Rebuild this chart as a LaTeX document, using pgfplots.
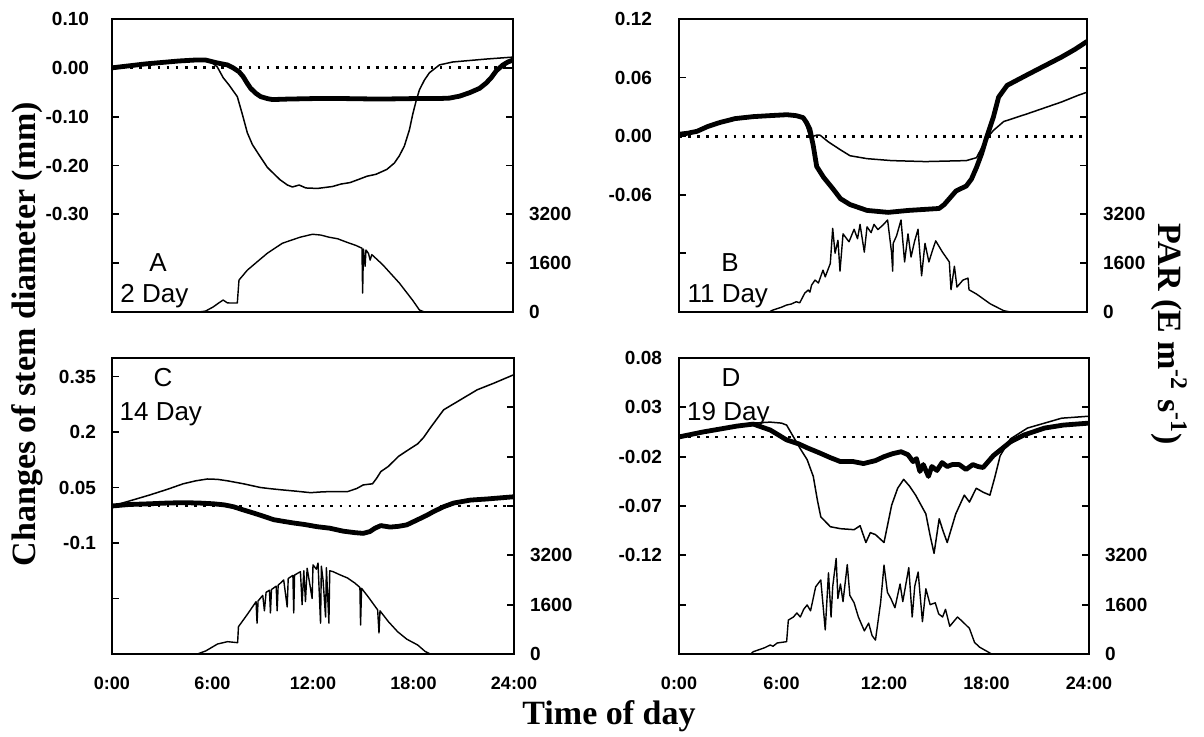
\documentclass[border=0pt]{standalone}
\usepackage{fontspec}
\setmainfont{Liberation Sans}
\newfontfamily\tnr{Liberation Serif}
\usepackage{pgfplots}
\pgfplotsset{compat=1.18}
\pgfplotsset{
 dia/.style={scale only axis, anchor=south west, xmin=0, xmax=24,
   axis line style={line width=1.25pt}, tick align=inside, major tick length=3.5pt,
   tick style={line width=0.9pt, black}, ytick pos=left, xtick pos=bottom,
   yticklabel style={font=\bfseries\fontsize{9.5}{11}\selectfont, anchor=east},
   xticklabel style={font=\bfseries\fontsize{9}{11}\selectfont, anchor=base, yshift=-17.75pt},
   xtick style={draw=none}},
 par/.style={scale only axis, anchor=south west, xmin=0, xmax=24, ymin=0, ymax=9600,
   hide x axis, y axis line style={draw=none}, ytick pos=right, yticklabel pos=right,
   tick align=inside, major tick length=3.5pt, tick style={line width=0.9pt, black},
   ytick={0,1600,3200,4800,6400,8000}, yticklabels={0,1600,3200,,,},
   yticklabel style={font=\bfseries\fontsize{9.5}{11}\selectfont, anchor=west, xshift=4.5pt}},
 thk/.style={black, line width=2.4pt, line join=round},
 thn/.style={black, line width=0.75pt, line join=round},
 zero/.style={black, line width=1.35pt, dash pattern=on 1.35pt off 3.2pt},
 parl/.style={black, line width=0.7pt, line join=round},
}
\tikzset{
 lett/.style={font=\fontsize{13}{15}\selectfont, anchor=base},
 dayl/.style={font=\fontsize{13}{15}\selectfont, anchor=base west, inner sep=0pt},
}
\begin{document}
\begin{tikzpicture}
\path[use as bounding box] (0,0) rectangle (602pt,368.5pt);
% ---------------- Panel A ----------------
\begin{axis}[dia, at={(56pt,212.5pt)}, width=200.5pt, height=146.5pt,
  ymin=-0.5, ymax=0.1, ytick={-0.4,-0.3,-0.2,-0.1,0,0.1},
  yticklabels={,-0.30,-0.20,-0.10,0.00,0.10}, yticklabel style={xshift=-8pt}, xtick=\empty]
\addplot[zero] coordinates {(0,0) (24,0)};
\addplot[thn] coordinates {(0,0.000) (1,0.004) (2,0.008) (3,0.011) (4,0.014) (5,0.016) (5.6,0.015) (6.0,0.010) (6.3,0.002) (6.65,-0.020) (7.0,-0.035) (7.5,-0.059) (7.8,-0.095) (8.1,-0.133) (8.4,-0.157) (8.7,-0.173) (9.3,-0.204) (10.05,-0.229) (10.5,-0.240) (10.8,-0.244) (11.2,-0.240) (11.6,-0.246) (12.3,-0.247) (13.2,-0.243) (13.7,-0.238) (14.25,-0.235) (14.8,-0.228) (15.26,-0.222) (15.8,-0.218) (16.45,-0.208) (16.9,-0.195) (17.2,-0.180) (17.5,-0.160) (17.8,-0.127) (18.0,-0.095) (18.2,-0.068) (18.4,-0.045) (18.7,-0.025) (19.0,-0.010) (19.6,0.006) (20.4,0.012) (21.4,0.015) (22.4,0.018) (24,0.022)};
\addplot[thk] coordinates {(0,0.000) (1,0.004) (2,0.008) (3,0.011) (4,0.014) (5,0.016) (5.6,0.016) (6.3,0.010) (6.9,0.006) (7.25,0.000) (7.6,-0.008) (7.85,-0.018) (8.1,-0.032) (8.3,-0.042) (8.6,-0.052) (8.9,-0.059) (9.3,-0.063) (9.6,-0.065) (10.5,-0.064) (12,-0.063) (14,-0.063) (16,-0.064) (18,-0.063) (19.5,-0.063) (20.2,-0.062) (20.8,-0.058) (21.4,-0.051) (22,-0.042) (22.4,-0.031) (22.7,-0.020) (23.0,-0.006) (23.4,0.006) (23.7,0.012) (24,0.016)};
\node[lett] at (rel axis cs:0.115,0.137) {A};
\node[dayl] at (rel axis cs:0.02,0.031) {2 Day};
\end{axis}
\begin{axis}[par, at={(56pt,212.5pt)}, width=200.5pt, height=146.5pt]
\addplot[parl] coordinates {(0,0) (5.2,0) (5.6,30) (6.05,163) (6.4,300) (6.65,392) (6.9,300) (7.07,294) (7.5,294) (7.6,1045) (8.1,1371) (8.7,1650) (9.3,1926) (10.2,2253) (11.25,2449) (12.0,2547) (12.5,2520) (13.0,2449) (13.5,2400) (14.05,2286) (14.6,2180) (14.96,2090) (15.0,620) (15.05,2060) (15.15,1500) (15.2,2030) (15.35,1920) (15.45,1700) (15.55,1880) (16.2,1550) (17.2,947) (18.0,380) (18.4,65) (18.7,0) (24,0)};
\end{axis}
% ---------------- Panel B ----------------
\begin{axis}[dia, at={(339.5pt,212.5pt)}, width=204pt, height=146.5pt,
  ymin=-0.18, ymax=0.12, ytick={-0.12,-0.06,0,0.06,0.12},
  yticklabels={,-0.06,0.00,0.06,0.12}, yticklabel style={xshift=-10pt}, xtick=\empty]
\addplot[zero] coordinates {(0,0) (24,0)};
\addplot[thn] coordinates {(0,0.002) (0.5,0.003) (1.06,0.005) (1.7,0.010) (2.4,0.014) (3.3,0.018) (4.35,0.020) (5.3,0.021) (6.35,0.022) (6.9,0.021) (7.3,0.018) (7.5,0.010) (7.7,-0.001) (8.1,0.001) (8.3,0.001) (8.8,-0.006) (9.5,-0.014) (10.06,-0.020) (11.06,-0.023) (12.5,-0.025) (14.5,-0.026) (16.9,-0.025) (17.5,-0.022) (17.8,-0.012) (18.06,-0.003) (18.5,0.006) (19.1,0.015) (20.5,0.023) (22.5,0.035) (23.5,0.042) (24,0.045)};
\addplot[thk] coordinates {(0,0.002) (0.5,0.003) (1.06,0.005) (1.7,0.010) (2.4,0.014) (3.3,0.018) (4.35,0.020) (5.3,0.021) (6.35,0.022) (6.9,0.021) (7.3,0.019) (7.5,0.014) (7.7,0.007) (7.9,-0.010) (8.1,-0.031) (8.5,-0.042) (9.06,-0.054) (9.5,-0.064) (10.06,-0.070) (11.06,-0.076) (12.3,-0.078) (13.5,-0.076) (15.3,-0.074) (15.6,-0.070) (16.0,-0.062) (16.3,-0.056) (16.9,-0.051) (17.2,-0.044) (17.5,-0.032) (17.8,-0.018) (18.06,-0.003) (18.5,0.020) (18.8,0.040) (19.3,0.052) (20.5,0.063) (21.5,0.072) (22.5,0.081) (23.3,0.089) (24,0.097)};
\node[lett] at (rel axis cs:0.125,0.137) {B};
\node[dayl] at (rel axis cs:0.02,0.031) {11 Day};
\end{axis}
\begin{axis}[par, at={(339.5pt,212.5pt)}, width=204pt, height=146.5pt]
\addplot[parl] coordinates {(0,0) (5.3,0) (5.53,65) (6.0,150) (6.33,228) (6.6,260) (6.9,336) (7.1,300) (7.4,620) (7.6,718) (7.7,650) (7.8,882) (8.0,1045) (8.2,950) (8.47,1371) (8.6,1150) (8.9,1590) (9.04,2740) (9.18,1926) (9.35,2350) (9.47,1340) (9.65,2560) (10.0,2300) (10.3,2710) (10.5,2400) (10.65,2870) (10.9,1960) (11.06,2790) (11.3,2600) (11.47,2870) (11.7,2700) (12.0,2850) (12.27,3015) (12.5,1960) (12.57,1340) (12.6,2250) (12.8,2500) (13.06,3015) (13.27,1640) (13.47,2560) (13.65,1800) (13.85,2300) (14.06,2710) (14.27,1185) (14.47,2250) (14.7,1640) (14.9,2000) (15.1,2330) (15.5,1960) (15.9,1640) (16.0,728) (16.2,1500) (16.35,816) (16.7,1045) (17.0,1110) (17.06,728) (17.5,588) (18.3,270) (19.1,42) (19.5,0) (24,0)};
\end{axis}
% ---------------- Panel C ----------------
\begin{axis}[dia, at={(56pt,41.5pt)}, width=201pt, height=148pt,
  ymin=-0.4, ymax=0.4, ytick={-0.25,-0.1,0.05,0.2,0.35},
  yticklabels={,-0.1,0.05,0.2,0.35}, yticklabel style={xshift=-4.5pt},
  xtick={0,6,12,18,24}, xticklabels={0:00,6:00,12:00,18:00,24:00}]
\addplot[zero] coordinates {(0,0) (24,0)};
\addplot[thn] coordinates {(0,0.000) (1,0.013) (2.27,0.030) (3.3,0.045) (4.25,0.060) (5.0,0.068) (5.7,0.073) (6.3,0.072) (6.9,0.068) (7.85,0.060) (8.86,0.050) (9.4,0.047) (10.05,0.044) (11.0,0.040) (11.85,0.036) (12.5,0.038) (13.05,0.039) (14.07,0.039) (14.6,0.047) (15.0,0.057) (15.55,0.060) (15.8,0.075) (16.05,0.093) (16.5,0.107) (17.1,0.134) (17.7,0.152) (18.25,0.168) (18.6,0.185) (19.0,0.211) (19.8,0.260) (20.8,0.287) (21.8,0.314) (22.8,0.332) (24,0.355)};
\addplot[thk] coordinates {(0,0.000) (1,0.004) (2.27,0.006) (3.3,0.008) (4.25,0.009) (5.2,0.008) (6.05,0.006) (6.7,0.003) (7.25,-0.002) (7.8,-0.010) (8.45,-0.019) (9.0,-0.027) (9.65,-0.037) (10.3,-0.042) (10.85,-0.046) (11.5,-0.050) (12.25,-0.056) (13.0,-0.060) (13.8,-0.068) (14.5,-0.072) (15.0,-0.074) (15.4,-0.069) (15.7,-0.060) (16.05,-0.053) (16.6,-0.057) (17.1,-0.055) (17.6,-0.051) (18.25,-0.037) (18.8,-0.025) (19.2,-0.015) (19.8,-0.002) (20.4,0.008) (21.4,0.016) (22.4,0.019) (23.2,0.022) (24,0.025)};
\node[lett] at (rel axis cs:0.127,0.903) {C};
\node[dayl] at (rel axis cs:0.018,0.79) {14 Day};
\end{axis}
\begin{axis}[par, at={(56pt,41.5pt)}, width=201pt, height=148pt]
\addplot[parl] coordinates {(0,0) (5.1,0) (5.6,100) (6.3,324) (6.9,400) (7.5,367) (7.55,886) (8.1,1300) (8.6,1697) (8.66,1000) (8.72,1720) (9.0,1900) (9.1,1400) (9.2,2000) (9.4,2070) (9.46,1330) (9.52,2090) (9.8,2200) (9.86,1400) (9.92,2230) (10.25,2400) (10.46,1525) (10.52,2450) (10.8,2550) (10.85,1330) (10.9,2560) (11.25,2670) (11.35,1600) (11.45,2700) (11.55,1700) (11.65,2780) (11.95,1800) (12.0,2890) (12.2,2750) (12.3,2950) (12.45,1000) (12.5,2850) (12.6,2400) (12.75,1200) (12.8,2800) (12.95,1000) (13.0,2700) (13.2,2670) (13.6,2570) (14.06,2465) (14.5,2300) (14.8,2160) (14.84,940) (14.9,2130) (15.3,1850) (15.86,1430) (15.94,680) (16.0,1400) (16.5,1050) (17.05,724) (17.6,480) (18.25,292) (18.7,80) (19,0) (24,0)};
\end{axis}
% ---------------- Panel D ----------------
\begin{axis}[dia, at={(339.5pt,41.5pt)}, width=205pt, height=148pt,
  ymin=-0.22, ymax=0.08, ytick={-0.17,-0.12,-0.07,-0.02,0.03,0.08},
  yticklabels={,-0.12,-0.07,-0.02,0.03,0.08}, yticklabel style={xshift=-5pt},
  xtick={0,6,12,18,24}, xticklabels={0:00,6:00,12:00,18:00,24:00}]
\addplot[zero] coordinates {(0,0) (24,0)};
\addplot[thn] coordinates {(0,0.000) (1.4,0.005) (2.4,0.008) (3.4,0.012) (4.35,0.014) (5.34,0.015) (6.0,0.014) (6.3,0.012) (6.7,0.000) (7.1,-0.012) (7.5,-0.023) (7.86,-0.040) (8.1,-0.064) (8.3,-0.081) (8.86,-0.091) (9.45,-0.093) (10.25,-0.094) (10.6,-0.090) (10.94,-0.107) (11.2,-0.097) (11.5,-0.099) (12.0,-0.107) (12.45,-0.069) (12.8,-0.052) (13.15,-0.043) (13.5,-0.050) (13.85,-0.059) (14.45,-0.078) (14.7,-0.100) (14.93,-0.118) (15.23,-0.083) (15.45,-0.095) (15.7,-0.107) (16.2,-0.078) (16.7,-0.059) (17.0,-0.066) (17.4,-0.052) (17.8,-0.056) (18.2,-0.059) (18.5,-0.040) (18.8,-0.019) (19.4,-0.002) (20.4,0.009) (22.4,0.019) (24,0.021)};
\addplot[thk] coordinates {(0,0.000) (1.4,0.005) (2.4,0.008) (3.4,0.011) (4.35,0.013) (5.34,0.007) (6.3,-0.003) (7.0,-0.007) (7.5,-0.011) (8.2,-0.016) (8.86,-0.021) (9.45,-0.025) (10.2,-0.025) (10.8,-0.027) (11.5,-0.024) (12.0,-0.020) (12.5,-0.017) (13.0,-0.015) (13.4,-0.018) (13.7,-0.025) (13.9,-0.022) (14.1,-0.035) (14.3,-0.028) (14.6,-0.040) (14.8,-0.030) (15.1,-0.034) (15.4,-0.026) (15.7,-0.030) (16.0,-0.028) (16.4,-0.028) (16.8,-0.033) (17.2,-0.028) (17.5,-0.030) (17.8,-0.031) (18.4,-0.019) (19.4,-0.005) (20.2,0.002) (21.4,0.009) (22.5,0.012) (24,0.014)};
\node[lett] at (rel axis cs:0.127,0.903) {D};
\node[dayl] at (rel axis cs:0.019,0.79) {19 Day};
\end{axis}
\begin{axis}[par, at={(339.5pt,41.5pt)}, width=205pt, height=148pt]
\addplot[parl] coordinates {(0,0) (4.2,0) (4.35,75) (5.0,200) (5.34,292) (5.5,250) (5.75,357) (6.3,400) (6.4,1100) (6.7,1200) (6.9,1330) (7.1,1200) (7.3,1450) (7.5,1590) (7.7,1400) (8.0,2180) (8.3,2400) (8.56,780) (8.75,2630) (8.9,1200) (9.0,2200) (9.2,3100) (9.3,1800) (9.45,2270) (9.6,1700) (9.85,2900) (10.0,1900) (10.25,1660) (10.5,1200) (10.85,750) (11.1,1000) (11.3,600) (11.5,450) (11.8,1660) (12.0,2880) (12.2,2000) (12.4,1800) (12.64,1500) (12.94,2270) (13.1,1700) (13.45,2800) (13.65,1200) (13.8,2200) (14.0,2660) (14.1,2000) (14.25,1050) (14.45,2115) (14.7,1600) (15.0,1660) (15.2,1300) (15.43,1200) (15.6,1450) (15.85,900) (16.3,1200) (16.6,1050) (17.0,830) (17.3,375) (17.6,220) (18.3,0) (24,0)};
\end{axis}
% ---------------- Axis titles ----------------
\node[rotate=90, font=\tnr\bfseries\fontsize{17}{20}\selectfont] at (13.5pt,201.5pt) {Changes of stem diameter (mm)};
\node[rotate=-90, font=\tnr\bfseries\fontsize{17}{20}\selectfont] at (584.5pt,201.5pt) {PAR (E m\textsuperscript{-2} s\textsuperscript{-1})};
\node[anchor=base, font=\tnr\bfseries\fontsize{17}{20}\selectfont] at (304.5pt,6pt) {Time of day};
\end{tikzpicture}
\end{document}
